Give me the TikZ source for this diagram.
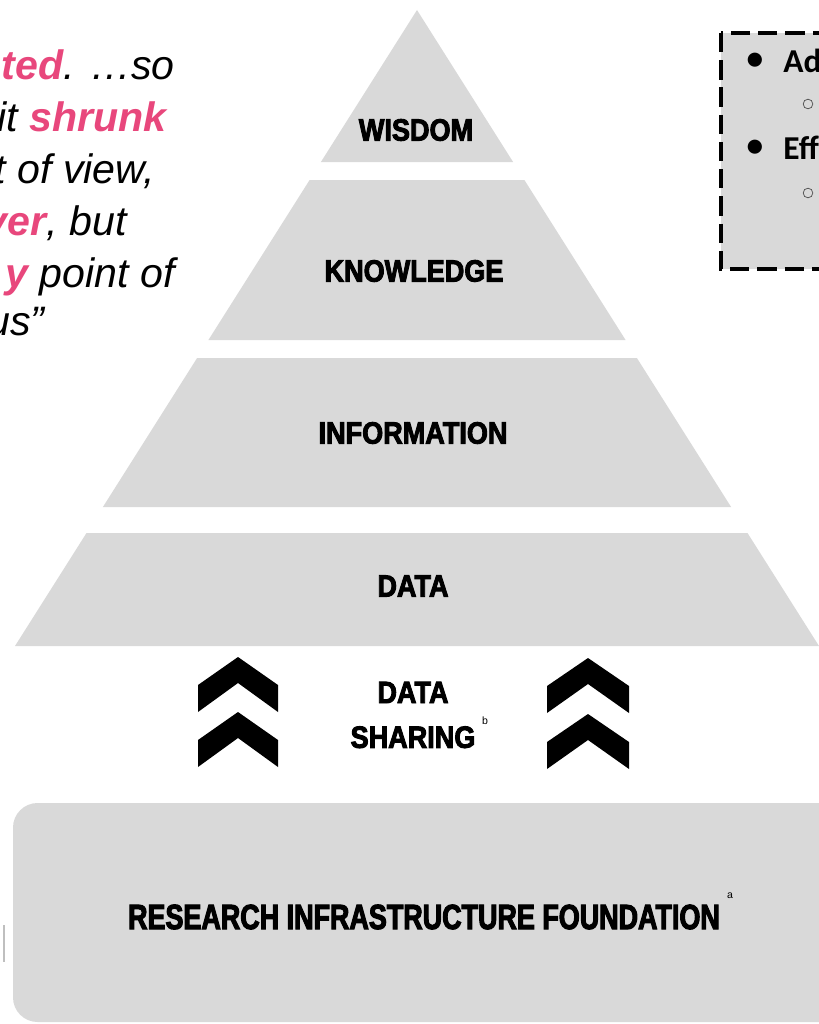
\documentclass[tikz,border=0pt]{standalone}
\usepackage{fontspec}
\setmainfont{Liberation Sans}
\newfontfamily\heavyfont[FakeStretch=0.88,FakeBold=3]{Liberation Sans Bold}
\newfontfamily\basefont[FakeStretch=0.77,FakeBold=3]{Liberation Sans Bold}
\newfontfamily\boxfont{Carlito}
\definecolor{tiergray}{RGB}{217,217,217}
\definecolor{quotepink}{RGB}{232,71,124}
\newcommand{\hl}[1]{\textcolor{quotepink}{\bfseries #1}}
\tikzset{
    tier/.style={fill=tiergray},
    tierlabel/.style={
        inner sep=0pt, align=center,
        font=\heavyfont\fontsize{17.5}{25.5}\selectfont
    },
    chevron/.style={fill=black},
    quoteline/.style={
        anchor=base east, inner sep=0pt,
        font=\itshape\fontsize{23.4}{28}\selectfont
    },
    notebox/.style={
        draw=black, fill=tiergray, line width=2.8pt,
        dash pattern=on 11pt off 4.5pt
    },
    boxtext/.style={
        anchor=base west, inner sep=0pt,
        font=\boxfont\bfseries\fontsize{19}{22}\selectfont
    },
    subbullet/.style={
        circle, draw=black!70, thin, fill=tiergray,
        minimum size=5.5pt, inner sep=0pt
    },
    footmark/.style={font=\fontsize{6}{7}\selectfont, inner sep=0pt}
}

\begin{document}
\begin{tikzpicture}[x=0.02cm, y=-0.02cm]
\useasboundingbox (0,0) rectangle (818,1024);

% Quote (cut at the left edge)
\node[quoteline] (q1) at (175,80) {\hl{ted}. …so};
\node[quoteline] (q2) at (167,132) {it \hl{shrunk}};
\node[quoteline] (q3) at (155,183) {t of view,};
\node[quoteline] (q4) at (127,235) {\hl{ver}, but};
\node[quoteline] (q5) at (175,287) {\hl{y} point of};
\node[quoteline] (q6) at (45,335) {us”};

% Note box (cut at the right edge)
\draw[notebox] (721,33) rectangle (840,269);
\node[boxtext, anchor=center] (dot1) at (755,61) {•};
\node[boxtext] (adv) at (783,72) {Ad};
\node[subbullet] (sub1) at (808,104) {};
\node[boxtext, anchor=center] (dot2) at (755,148) {•};
\node[boxtext] (eff) at (783,159) {Eff};
\node[subbullet] (sub2) at (808,193) {};

% Pyramid tiers
\fill[tier] (417,10) -- (513.1,162) -- (320.9,162) -- cycle;
\fill[tier] (309.6,180) -- (524.4,180) -- (625.6,340) -- (208.4,340) -- cycle;
\fill[tier] (197.1,358) -- (636.9,358) -- (731.1,507) -- (102.9,507) -- cycle;
\fill[tier] (86.5,533) -- (747.5,533) -- (819,646) -- (15,646) -- cycle;

\node[tierlabel] (wisdom) at (416,130) {WISDOM};
\node[tierlabel] (knowledge) at (414,271) {KNOWLEDGE};
\node[tierlabel] (information) at (413,433) {INFORMATION};
\node[tierlabel] (data) at (413,586) {DATA};

% Data sharing
\foreach \cx/\ty/\w in {238/657/40, 238/712/40, 588/658/41, 588/714/41}
    \fill[chevron] ({\cx-\w},{\ty+28}) -- (\cx,\ty) -- ({\cx+\w},{\ty+28})
        -- ({\cx+\w},{\ty+55}) -- (\cx,{\ty+26}) -- ({\cx-\w},{\ty+55}) -- cycle;

\node[tierlabel] (sharing) at (413,715) {DATA\\SHARING};
\node[footmark] (supb) at (485,721) {b};

% Foundation
\fill[tier, rounded corners=14pt] (13,803) rectangle (860,1022);
\draw[black!25, line width=0.6pt] (4,925) -- (4,962);
\node[tierlabel, font=\basefont\fontsize{19.9}{24}\selectfont] (foundation) at (424,917) {RESEARCH INFRASTRUCTURE FOUNDATION};
\node[footmark] (supa) at (730,896) {a};

\end{tikzpicture}
\end{document}
